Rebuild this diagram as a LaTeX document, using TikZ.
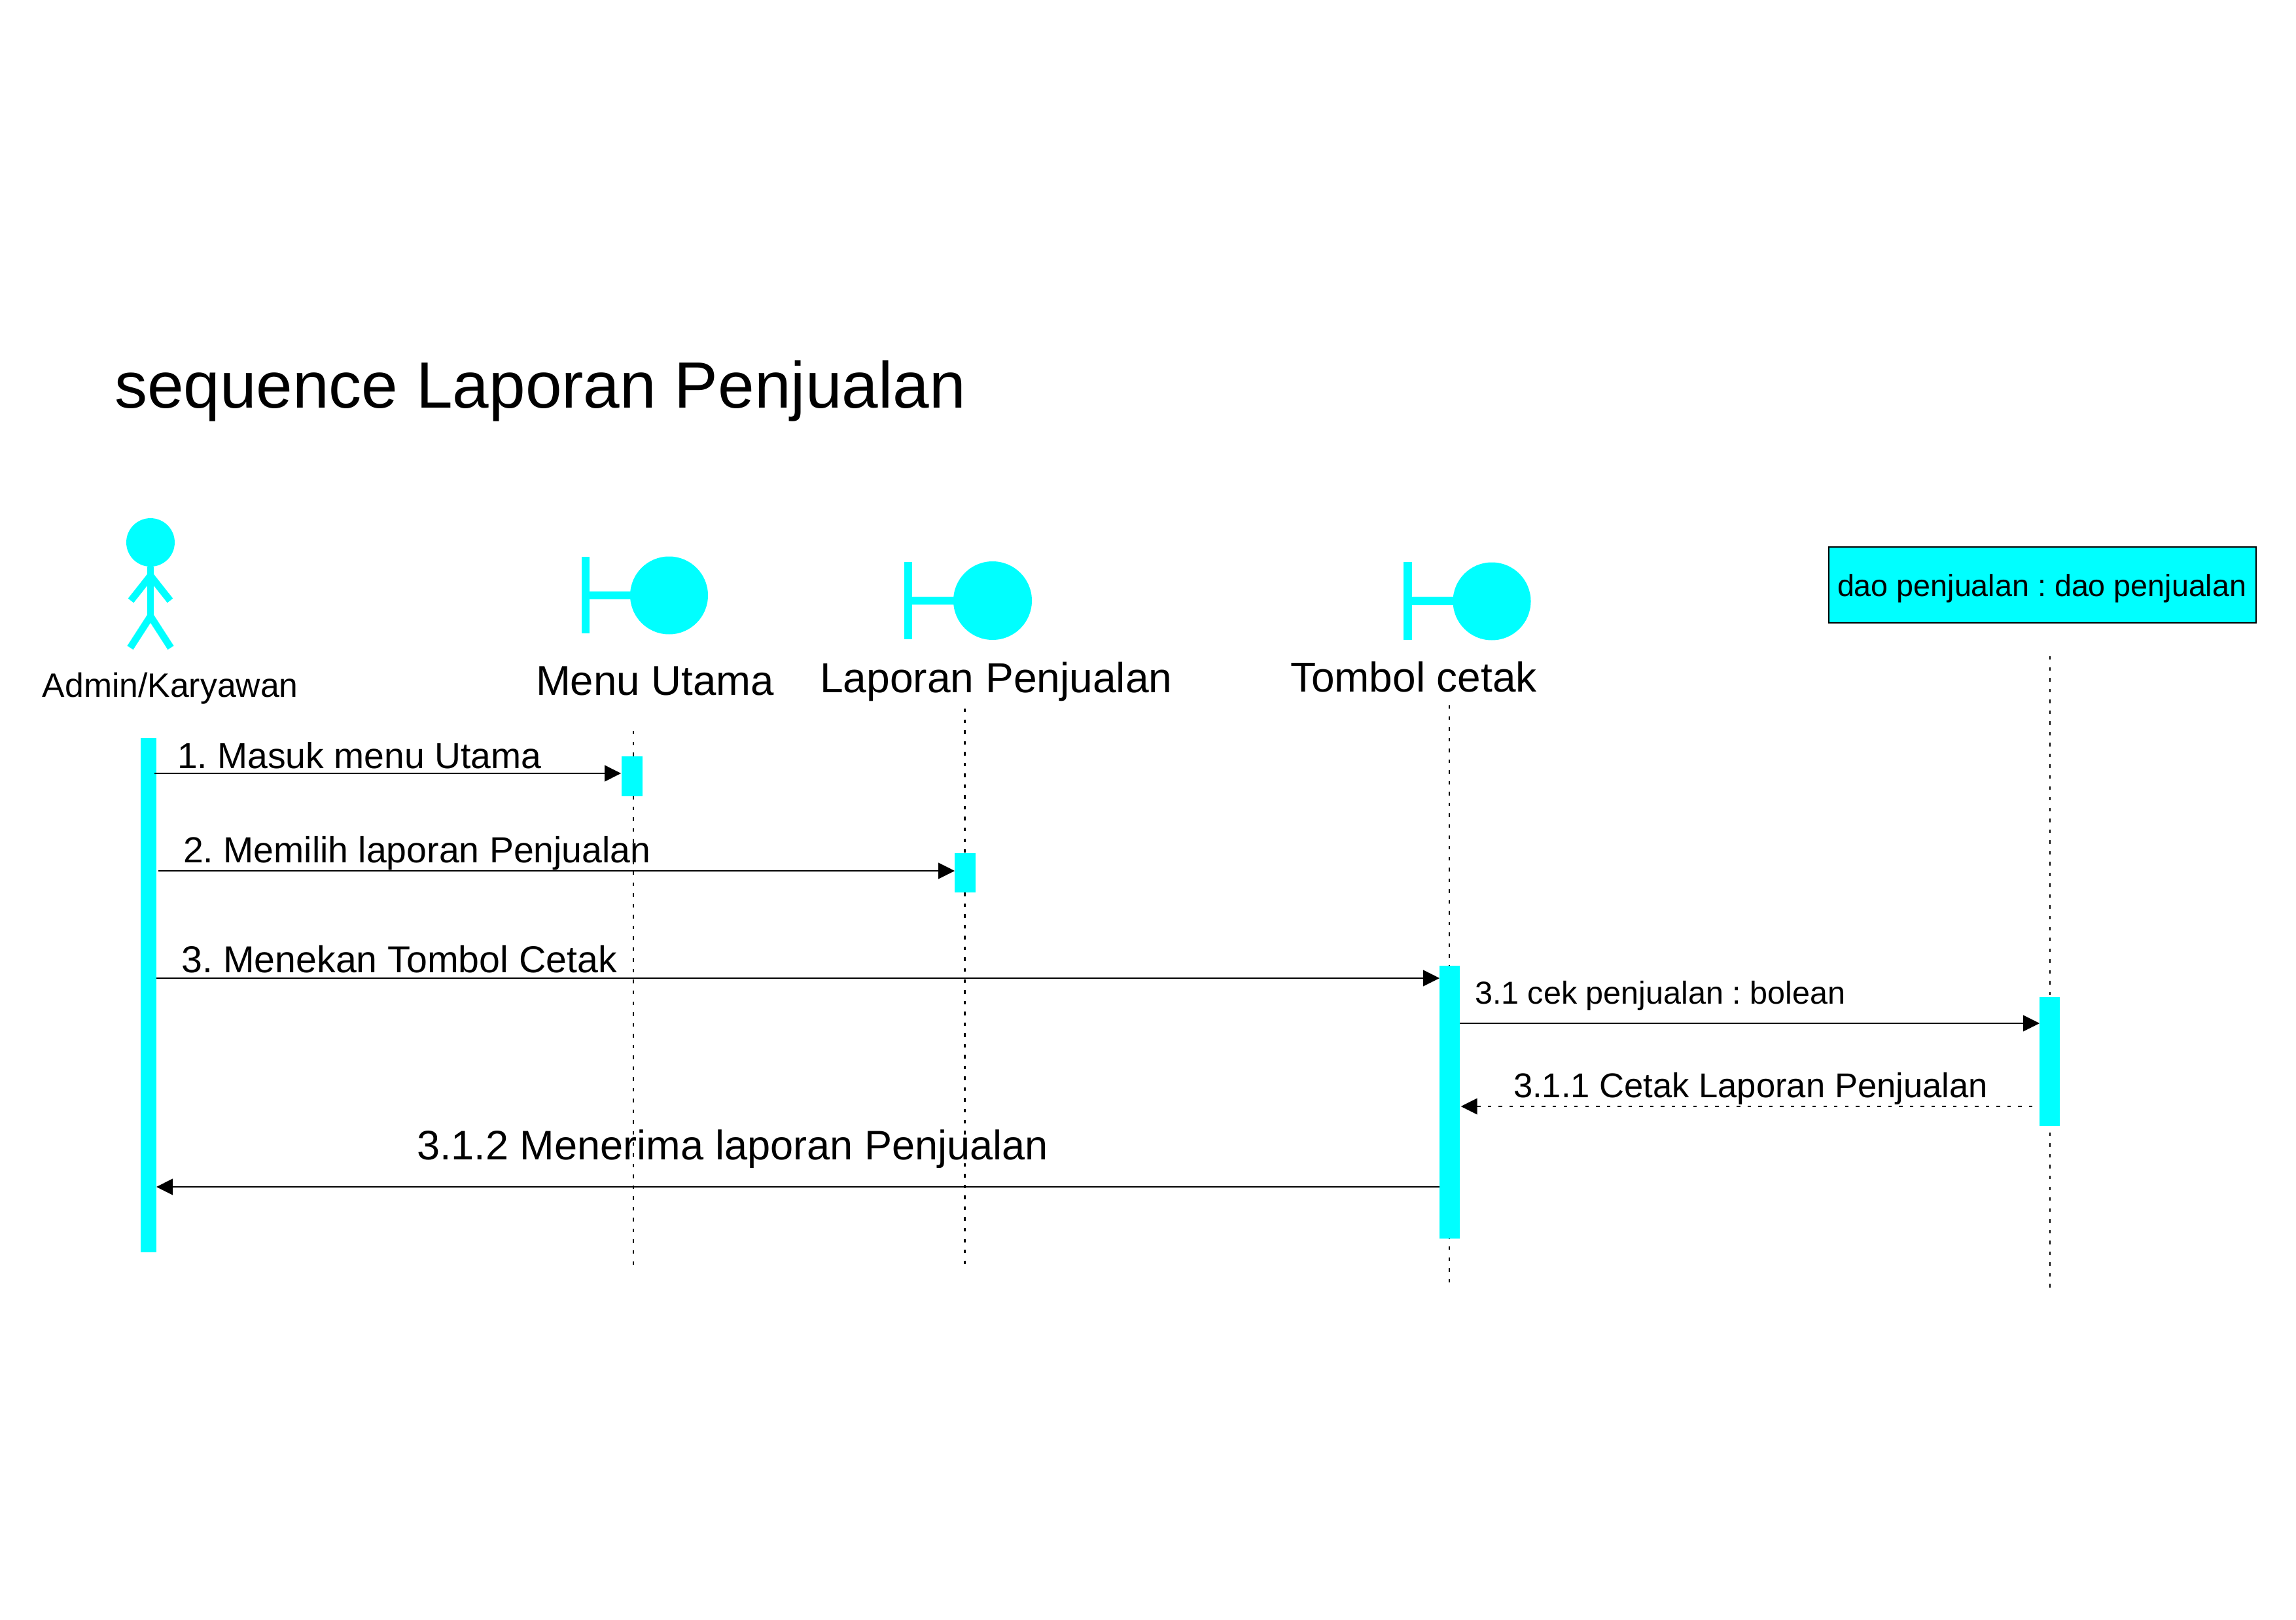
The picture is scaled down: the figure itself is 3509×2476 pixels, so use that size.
\documentclass[tikz,border=0pt]{standalone}
\usepackage{fontspec}
\setmainfont{Liberation Sans}
\usetikzlibrary{arrows.meta}
\definecolor{aqua}{HTML}{00FFFF}
\newcommand{\pxbox}[5]{\node[fillbox,minimum width={(#4-#2)*0.24pt},minimum height={(#5-#3)*0.24pt}] (#1) at ({(#2+#4)/2},{(#3+#5)/2}) {};}
\newcommand{\lbl}[5]{\node[label text] (#1) at (#2,#3) {\fontsize{#4pt}{#4pt}\selectfont\frenchspacing #5};}
\tikzset{
  fillbox/.style={rectangle,fill=aqua,draw=none,inner sep=0pt,outer sep=0pt},
  fillcirc/.style={circle,fill=aqua,draw=none,inner sep=0pt,outer sep=0pt},
  label text/.style={anchor=base west,inner sep=0pt,outer sep=0pt,text=black},
  figline/.style={draw=aqua,line width=2.6pt},
  lifeline/.style={draw=black,line width=0.5pt,dash pattern=on 1.3pt off 2.67pt},
  msg/.style={draw=black,line width=0.5pt,-{Triangle[length=6pt,width=5.9pt]}},
  retmsg/.style={msg,dash pattern=on 1.3pt off 2.67pt}
}
\begin{document}
\begin{tikzpicture}[x=0.24pt,y=-0.24pt]
\useasboundingbox (0,0) rectangle (3509,2476);
% title
\lbl{title}{175}{624}{24}{sequence Laporan Penjualan}
% actor
\node[fillcirc,minimum size={74*0.24pt}] (head) at (230,829) {};
\coordinate (hip) at (230,942);
\coordinate (shoulder) at (230,880);
\coordinate (handl) at (200,918);
\coordinate (handr) at (260,918);
\coordinate (footl) at (199,990);
\coordinate (footr) at (261,990);
\draw[figline] (head.south) -- (hip);
\draw[figline] (handl) -- (shoulder) -- (handr);
\draw[figline] (footl) -- (hip) -- (footr);
\lbl{actorname}{65}{1065}{12.4}{Admin/Karyawan}
% boundary: Menu Utama
\pxbox{mbar}{889}{851}{901}{968}
\node[fillcirc,minimum size={119*0.24pt}] (mcirc) at (1022.5,910) {};
\pxbox{mstem}{901}{904}{965}{916}
\lbl{mname}{819}{1062}{15.25}{Menu Utama}
% boundary: Laporan Penjualan
\pxbox{lbar}{1382}{859}{1394}{977}
\node[fillcirc,minimum size={120*0.24pt}] (lcirc) at (1517,918) {};
\pxbox{lstem}{1394}{912}{1458}{924}
\lbl{lname}{1253}{1058}{15.4}{Laporan Penjualan}
% boundary: Tombol cetak
\pxbox{tbar}{2145}{859}{2158}{978}
\node[fillcirc,minimum size={119*0.24pt}] (tcirc) at (2280,919) {};
\pxbox{tstem}{2158}{912}{2221}{925}
\lbl{tname}{1972}{1057}{15.35}{Tombol cetak}
% dao object
\node[fillbox,draw=black,line width=0.5pt,minimum width={653*0.24pt},minimum height={116*0.24pt}] (dao) at (3121.5,894) {};
\lbl{daoname}{2808}{911}{11.2}{dao penjualan : dao penjualan}
% lifelines
\coordinate (mtop) at (968,1117); \coordinate (mbot) at (968,1933);
\coordinate (ltop) at (1474.5,1083); \coordinate (lbot) at (1474.5,1932);
\coordinate (ttop) at (2215,1078); \coordinate (tbot) at (2215,1960);
\coordinate (dtop) at (3133,1003); \coordinate (dbot) at (3133,1968);
\draw[lifeline] (mtop) -- (mbot);
\draw[lifeline] (ltop) -- (lbot);
\draw[lifeline] (ttop) -- (tbot);
\draw[lifeline] (dtop) -- (dbot);
% activations
\pxbox{aact}{215}{1128}{239}{1914}
\pxbox{mact}{950}{1156}{982}{1217}
\pxbox{lact}{1459}{1304}{1491}{1364}
\pxbox{tact}{2200}{1476}{2231}{1893}
\pxbox{dact}{3117}{1524}{3148}{1721}
% messages
\draw[msg] ([xshift=-0.7pt]aact.east |- 0,1182) -- ([xshift=-0.2pt]mact.west |- 0,1182);
\draw[msg] ([xshift=0.7pt]aact.east |- 0,1331) -- (lact.west |- 0,1331);
\draw[msg] (aact.east |- 0,1495) -- (tact.west |- 0,1495);
\draw[msg] (tact.east |- 0,1564) -- (dact.west |- 0,1564);
\draw[retmsg] ([xshift=-2.6pt]dact.west |- 0,1691) -- ([xshift=0.4pt]tact.east |- 0,1691);
\draw[msg] (tact.west |- 0,1814) -- (aact.east |- 0,1814);
% message labels
\lbl{t1}{271}{1174}{13.27}{1. Masuk menu Utama}
\lbl{t2}{280}{1318}{13.3}{2. Memilih laporan Penjualan}
\lbl{t3}{277.5}{1486}{13.75}{3. Menekan Tombol Cetak}
\lbl{t4}{2254}{1534}{11.65}{3.1 cek penjualan : bolean}
\lbl{t5}{2313}{1677}{12.62}{3.1.1 Cetak Laporan Penjualan}
\lbl{t6}{637}{1772}{15.15}{3.1.2 Menerima laporan Penjualan}
\end{tikzpicture}
\end{document}
